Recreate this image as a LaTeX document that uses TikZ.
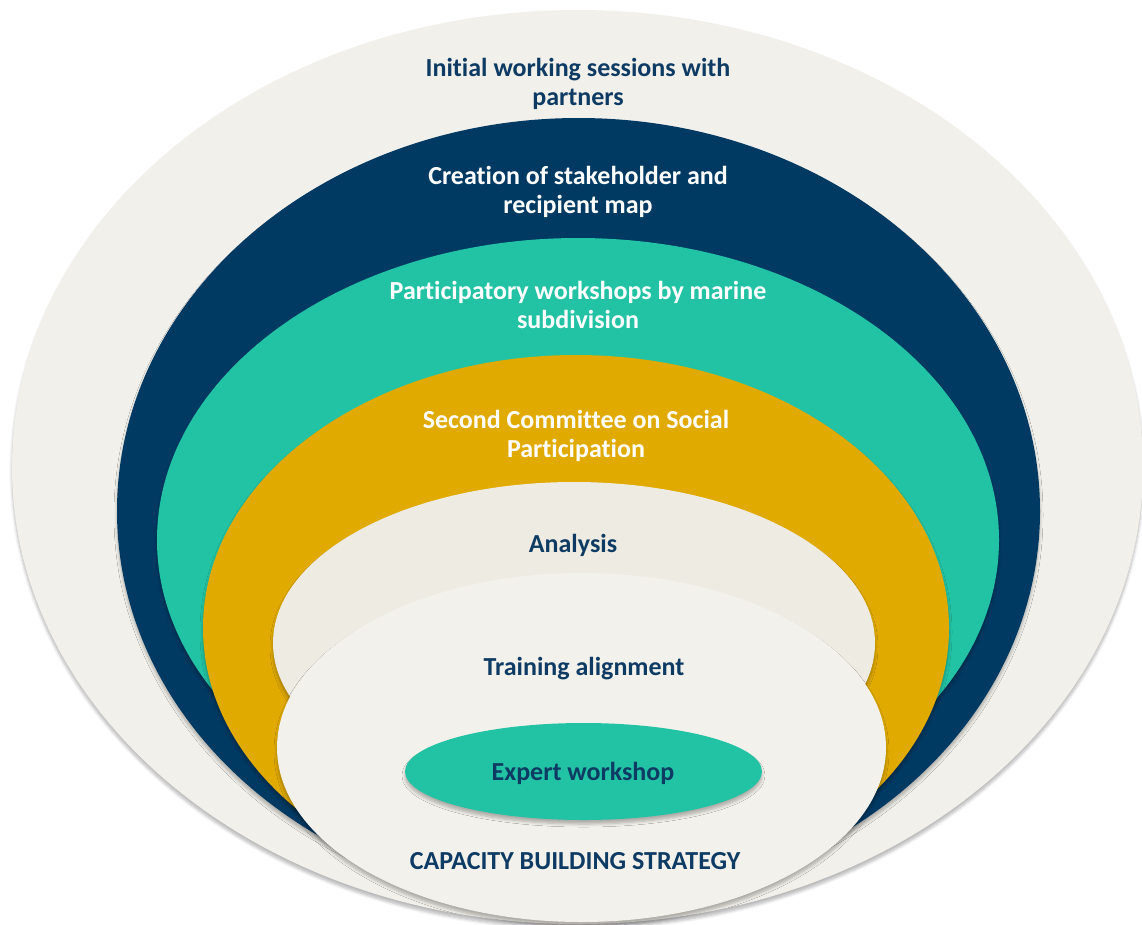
\documentclass[tikz,border=0pt]{standalone}
\usepackage{fontspec}
\setmainfont{Carlito}[Ligatures=NoCommon]
\usetikzlibrary{shapes.geometric,shadows.blur}
\definecolor{beigeA}{RGB}{242,240,234}
\definecolor{beigeB}{RGB}{237,235,226}
\definecolor{beigeC}{RGB}{243,241,235}
\definecolor{navyA}{RGB}{0,58,99}
\definecolor{tealA}{RGB}{34,195,164}
\definecolor{goldA}{RGB}{224,170,0}
\definecolor{txtnavy}{RGB}{14,59,99}
\tikzset{
  ring/.style={ellipse, inner sep=0pt, outer sep=0pt,
    blur shadow={shadow xshift=0pt, shadow yshift=-4pt, shadow blur radius=3pt, shadow blur steps=6, shadow opacity=28}},
  lbl/.style={align=center, font=\fontsize{26}{29}\selectfont\bfseries, inner sep=0pt},
}
\begin{document}
\begin{tikzpicture}[x=1pt,y=-1pt]
\useasboundingbox (0,0) rectangle (1142,924);
\node (outer) [ring, fill=beigeA, minimum width=1131pt, minimum height=914pt] at (577.5,467) {};
\node (navy) [ring, fill=navyA, minimum width=923pt, minimum height=786pt] at (578.5,511) {};
\node (teal) [ring, fill=tealA, minimum width=842pt, minimum height=604pt] at (578,540) {};
\node (gold) [ring, fill=goldA, minimum width=746pt, minimum height=546pt] at (576,628) {};
\node (analysis) [ring, fill=beigeB, minimum width=602pt, minimum height=322pt] at (574,643) {};
\node (training) [ring, fill=beigeC, minimum width=609pt, minimum height=349pt] at (581.5,747.5) {};
\node (expert) [ring, fill=tealA, minimum width=357pt, minimum height=97pt] at (583.5,771.5) {};

\node (t1) [lbl, text=txtnavy] at (578,84) {Initial working sessions with\\partners};
\node (t2) [lbl, text=white] at (578,192) {Creation of stakeholder and\\recipient map};
\node (t3) [lbl, text=white] at (578,305) {Participatory workshops by marine\\subdivision};
\node (t4) [lbl, text=white] at (576,436) {Second Committee on Social\\Participation};
\node (t5) [lbl, text=txtnavy] at (573,545) {Analysis};
\node (t6) [lbl, text=txtnavy] at (584,669) {Training alignment};
\node (t7) [lbl, text=txtnavy] at (583,773) {Expert workshop};
\node (t8) [lbl, text=txtnavy] at (575,861) {CAPACITY BUILDING STRATEGY};
\end{tikzpicture}
\end{document}
